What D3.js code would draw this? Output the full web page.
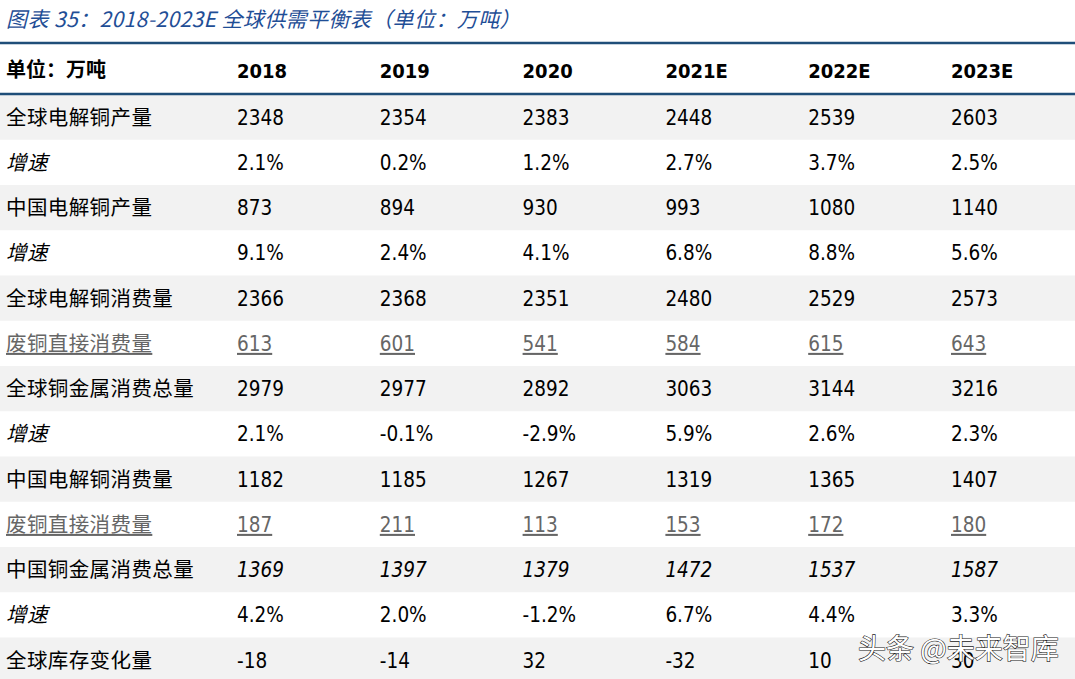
<!DOCTYPE html>
<html><head><meta charset="utf-8">
<script src="https://cdn.jsdelivr.net/npm/d3@7"></script>
<style>
html,body{margin:0;padding:0;background:#fff;}
svg{display:block;}
</style></head>
<body>
<script>
const title = "图表 35：2018-2023E 全球供需平衡表（单位：万吨）";
const headerLabel = "单位：万吨";
const years = ["2018","2019","2020","2021E","2022E","2023E"];
const rowLabels = ["全球电解铜产量","增速","中国电解铜产量","增速","全球电解铜消费量","废铜直接消费量","全球铜金属消费总量","增速","中国电解铜消费量","废铜直接消费量","中国铜金属消费总量","增速","全球库存变化量"];
const globalCathodeOutput = ["2348","2354","2383","2448","2539","2603"];
const globalOutputGrowth = ["2.1%","0.2%","1.2%","2.7%","3.7%","2.5%"];
const chinaCathodeOutput = ["873","894","930","993","1080","1140"];
const chinaOutputGrowth = ["9.1%","2.4%","4.1%","6.8%","8.8%","5.6%"];
const globalCathodeUse = ["2366","2368","2351","2480","2529","2573"];
const globalScrapUse = ["613","601","541","584","615","643"];
const globalTotalUse = ["2979","2977","2892","3063","3144","3216"];
const globalUseGrowth = ["2.1%","-0.1%","-2.9%","5.9%","2.6%","2.3%"];
const chinaCathodeUse = ["1182","1185","1267","1319","1365","1407"];
const chinaScrapUse = ["187","211","113","153","172","180"];
const chinaTotalUse = ["1369","1397","1379","1472","1537","1587"];
const chinaUseGrowth = ["4.2%","2.0%","-1.2%","6.7%","4.4%","3.3%"];
const globalStockChange = ["-18","-14","32","-32","10","30"];
const rowValues = [globalCathodeOutput,globalOutputGrowth,chinaCathodeOutput,chinaOutputGrowth,globalCathodeUse,globalScrapUse,globalTotalUse,globalUseGrowth,chinaCathodeUse,chinaScrapUse,chinaTotalUse,chinaUseGrowth,globalStockChange];
const watermark = "头条 @未来智库";

const W = 1075, H = 679;
const numFont = "'DejaVu Sans Condensed','DejaVu Sans',sans-serif";
const cjkFont = "'Noto Sans CJK SC','Noto Sans',sans-serif";
const blue = "#1f4e79";

const svg = d3.select("body").append("svg").attr("width", W).attr("height", H);

const rows = rowLabels.map((l,i)=>({label:l, values:rowValues[i], i}));
const y = d3.scaleBand().domain(d3.range(rows.length)).range([94.5, 94.5 + 13*45.25]);
const x = d3.scalePoint().domain(years).range([237, 951]);

svg.selectAll("rect.bg").data(rows.filter(r=>r.i%2===0)).join("rect")
  .attr("x",0).attr("width",W).attr("y",r=>y(r.i)).attr("height",y.bandwidth()).attr("fill","#f2f2f2");

svg.append("text").attr("x",6).attr("y",27).attr("fill","#1f4e96")
  .attr("font-family",cjkFont).attr("font-size",21).attr("font-style","italic")
  .attr("letter-spacing",0.4).text(title);

svg.append("line").attr("x1",0).attr("x2",W).attr("y1",43).attr("y2",43).attr("stroke",blue).attr("stroke-width",2.5);
svg.append("line").attr("x1",0).attr("x2",W).attr("y1",94).attr("y2",94).attr("stroke",blue).attr("stroke-width",2.5);

svg.append("text").attr("x",6).attr("y",77).attr("font-family",cjkFont).attr("font-weight","bold").attr("font-size",20).attr("fill","#000").text(headerLabel);
svg.selectAll("text.hd").data(years).join("text").attr("class","hd")
  .attr("x",d=>x(d)).attr("y",78).attr("font-family",numFont).attr("font-weight","bold").attr("font-size",20).attr("fill","#000").text(d=>d);

const isGrowth = r => r.label === "增速";
const isScrap = r => r.label === "废铜直接消费量";
const isItalicVals = r => r.label === "中国铜金属消费总量";

const g = svg.selectAll("g.row").data(rows).join("g").attr("class","row")
  .attr("transform", r=>`translate(0,${y(r.i)+y.bandwidth()/2+7.5})`);

g.append("text").attr("x",6).attr("font-family",cjkFont).attr("font-size",20.5)
  .attr("letter-spacing",0.4)
  .attr("font-style",r=>isGrowth(r)?"italic":"normal")
  .attr("fill",r=>isScrap(r)?"#666":"#000")
  .attr("text-decoration",r=>isScrap(r)?"underline":"none")
  .text(r=>r.label);

g.selectAll("text.v").data(r=>r.values.map((v,j)=>({v,year:years[j],r}))).join("text").attr("class","v")
  .attr("x",d=>x(d.year)).attr("font-family",numFont).attr("font-size",20.5)
  .attr("font-style",d=>isItalicVals(d.r)?"italic":"normal")
  .attr("fill",d=>isScrap(d.r)?"#666":"#000")
  .attr("text-decoration",d=>isScrap(d.r)?"underline":"none")
  .text(d=>d.v);

svg.append("text").attr("x",858).attr("y",659).attr("font-family",cjkFont).attr("font-size",28)
  .attr("fill","#fff").attr("stroke","#222").attr("stroke-width",1.2).attr("paint-order","stroke").text(watermark);
</script>
</body></html>
